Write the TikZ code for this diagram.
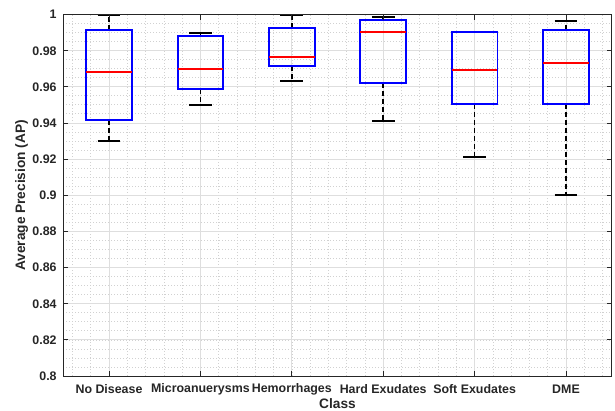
\documentclass[tikz,border=0pt]{standalone}
\usepackage{fontspec}
\setmainfont{Liberation Sans}
\newcommand{\mybox}[6]{%
  \draw[whisk] (#1,#3) -- (#1,#2);
  \draw[whisk] (#1,#5) -- (#1,#6);
  \draw[capst] (#1-0.125,#2) -- (#1+0.125,#2);
  \draw[capst] (#1-0.125,#6) -- (#1+0.125,#6);
  \draw[boxst] (#1-0.25,#3) rectangle (#1+0.25,#5);
  \draw[medst] (#1-0.25,#4) -- (#1+0.25,#4);
}
\begin{document}
\begin{tikzpicture}[
  gridmajor/.style={draw=black!13, line width=0.8pt},
  gridminor/.style={draw=black!18, line width=0.6pt, dash pattern=on 0.8pt off 2.2pt},
  axisline/.style={draw=black!85, line width=0.8pt},
  tickst/.style={draw=black!85, line width=0.8pt},
  boxst/.style={draw=blue, line width=1.9pt},
  medst/.style={draw=red, line width=1.9pt},
  whisk/.style={draw=black, line width=1.7pt, dash pattern=on 5pt off 3pt},
  capst/.style={draw=black, line width=1.7pt},
  lab/.style={font=\fontsize{12.4}{14}\selectfont\bfseries, text=black!85, inner sep=0pt},
  biglab/.style={font=\fontsize{13.7}{15}\selectfont\bfseries, text=black!85, inner sep=0pt}
]
\useasboundingbox (0,0) rectangle (615pt,411pt);
\begin{scope}[shift={(17.6pt,-1410.2pt)}, x=91.4pt, y=1806.5pt]
  % minor grid
  \foreach \k in {0,...,29} {
    \draw[gridminor] ({0.6+0.2*\k},0.8) -- ({0.6+0.2*\k},1);
  }
  \foreach \k in {1,...,39} {
    \draw[gridminor] (0.5,{0.8+0.005*\k}) -- (6.5,{0.8+0.005*\k});
  }
  % major grid
  \foreach \k in {1,...,6} {
    \draw[gridmajor] (\k,0.8) -- (\k,1);
  }
  \foreach \k in {1,...,9} {
    \draw[gridmajor] (0.5,{0.8+0.02*\k}) -- (6.5,{0.8+0.02*\k});
  }
  % boxes
  \mybox{1}{0.930}{0.9417}{0.9685}{0.9917}{0.9995}
  \mybox{2}{0.9502}{0.9587}{0.970}{0.988}{0.990}
  \mybox{3}{0.9633}{0.9716}{0.9764}{0.9925}{0.9995}
  \mybox{4}{0.9413}{0.9624}{0.9904}{0.9969}{0.9986}
  \draw[whisk] (5,0.9506) -- (5,0.9212);
  \draw[capst] (5-0.125,0.9212) -- (5+0.125,0.9212);
  \draw[boxst] (5-0.25,0.9506) rectangle (5+0.25,0.9903);
  \draw[medst] (5-0.25,0.9694) -- (5+0.25,0.9694);
  \mybox{6}{0.9002}{0.9506}{0.9734}{0.9917}{0.9965}
  % ticks
  \foreach \k in {0,...,10} {
    \draw[tickst] (0.5,{0.8+0.02*\k}) -- ++(5pt,0);
    \draw[tickst] (6.5,{0.8+0.02*\k}) -- ++(-5pt,0);
  }
  \foreach \k in {1,...,6} {
    \draw[tickst] (\k,0.8) -- ++(0,5pt);
    \draw[tickst] (\k,1) -- ++(0,-5pt);
  }
  % axes box
  \draw[axisline] (0.5,0.8) rectangle (6.5,1);
  % y tick labels
  \foreach \v/\t [count=\i] in {0.8/0.8,0.82/0.82,0.84/0.84,0.86/0.86,0.88/0.88,0.9/0.9,0.92/0.92,0.94/0.94,0.96/0.96,0.98/0.98,1/1} {
    \node[lab, anchor=east] (yl\i) at ([xshift=-6.5pt]0.5,\v) {\t};
  }
  % category labels
  \foreach \n [count=\i] in {No Disease,Microanuerysms,Hemorrhages,Hard Exudates,Soft Exudates,DME} {
    \node[lab] (cl\i) at ([yshift=-13pt]\i,0.8) {\n};
  }
  \node[biglab] (xlabel) at ([yshift=-27.5pt]3.5,0.8) {Class};
  \node[biglab, rotate=90] (ylabel) at ([xshift=-41.6pt]0.5,0.9) {Average Precision (AP)};
\end{scope}
\end{tikzpicture}
\end{document}
